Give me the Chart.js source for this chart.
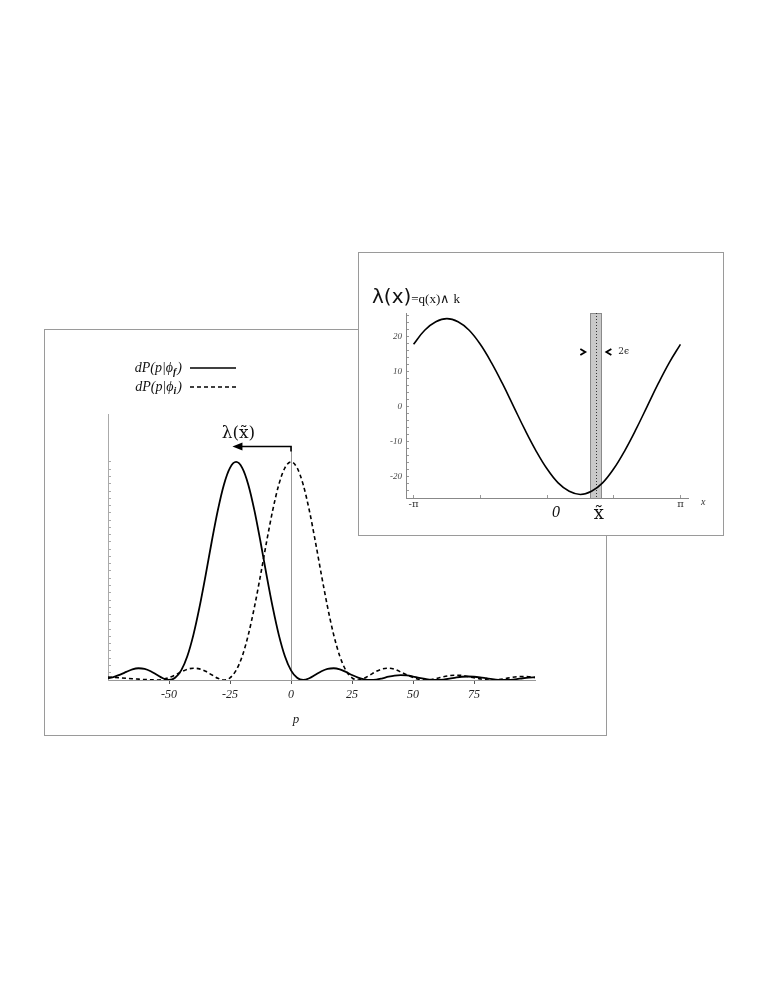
<!DOCTYPE html>
<html>
<head>
<meta charset="utf-8">
<script src="https://cdn.jsdelivr.net/npm/chart.js@4.4.1/dist/chart.umd.min.js"></script>
<style>
  body { margin: 0; background: #fff; width: 761px; height: 985px; position: relative; overflow: hidden; }
  #mainBox { position: absolute; left: 44px; top: 329px; width: 561px; height: 405px; border: 1px solid #9a9a9a; background: #fff; }
  #insetBox { position: absolute; left: 358px; top: 252px; width: 364px; height: 282px; border: 1px solid #9a9a9a; background: #fff; }
  canvas { display: block; }
</style>
</head>
<body>
<div id="mainBox"><canvas id="mainChart" width="561" height="405"></canvas></div>
<div id="insetBox"><canvas id="insetChart" width="364" height="282"></canvas></div>
<script>
// main plot: momentum distributions
const pValues = [-75, -72.5, -70, -67.5, -65, -62.5, -60, -57.5, -55, -52.5, -50, -47.5, -45, -42.5, -40, -37.5,
  -35, -32.5, -30, -27.5, -25, -22.5, -20, -17.5, -15, -12.5, -10, -7.5, -5, -2.5, 0, 2.5, 5, 7.5, 10, 12.5,
  15, 17.5, 20, 22.5, 25, 27.5, 30, 32.5, 35, 37.5, 40, 42.5, 45, 47.5, 50, 52.5, 55, 57.5, 60, 62.5, 65,
  67.5, 70, 72.5, 75, 77.5, 80, 82.5, 85, 87.5, 90, 92.5, 95, 97.5, 100];

// dP(p|phi_f) - solid
const finalValues = [0.008, 0.014, 0.025, 0.037, 0.049, 0.054, 0.051, 0.040, 0.024, 0.008, 0, 0.010, 0.044,
  0.109, 0.207, 0.334, 0.480, 0.634, 0.778, 0.896, 0.973, 1.0, 0.973, 0.896, 0.778, 0.634, 0.480, 0.334,
  0.207, 0.109, 0.044, 0.010, 0, 0.008, 0.024, 0.040, 0.051, 0.054, 0.049, 0.037, 0.023, 0.011, 0.003, 0,
  0.002, 0.008, 0.015, 0.020, 0.022, 0.021, 0.016, 0.010, 0.005, 0.001, 0, 0.002, 0.006, 0.011, 0.015,
  0.016, 0.015, 0.012, 0.008, 0.004, 0.001, 0, 0.001, 0.004, 0.008, 0.011, 0.012];

// dP(p|phi_i) - dashed
const initialValues = [0.014, 0.012, 0.010, 0.008, 0.006, 0.004, 0.002, 0.001, 0, 0.003, 0.011, 0.023, 0.037,
  0.049, 0.054, 0.051, 0.040, 0.024, 0.008, 0, 0.010, 0.044, 0.109, 0.207, 0.334, 0.480, 0.634, 0.778,
  0.896, 0.973, 1.0, 0.973, 0.896, 0.778, 0.634, 0.480, 0.334, 0.207, 0.109, 0.044, 0.010, 0, 0.008, 0.024,
  0.040, 0.051, 0.054, 0.049, 0.037, 0.023, 0.011, 0.003, 0, 0.002, 0.008, 0.015, 0.020, 0.022, 0.021,
  0.016, 0.010, 0.005, 0.001, 0, 0.002, 0.006, 0.011, 0.015, 0.016, 0.015, 0.012];

const pTickLabels = [-50, -25, 0, 25, 50, 75];
const shiftFrom = 0;      // arrow starts at p = 0
const shiftTo = -24;      // arrow head
const shiftLevel = 1.073; // height of the arrow

// inset: lambda(x)
const xValues = [-3.1416, -2.8798, -2.6180, -2.3562, -2.0944, -1.8326, -1.5708, -1.3090, -1.0472, -0.7854,
  -0.5236, -0.2618, 0, 0.2618, 0.5236, 0.7854, 1.0472, 1.3090, 1.5708, 1.8326, 2.0944, 2.3562, 2.6180,
  2.8798, 3.1416];
const lambdaValues = [17.7, 21.7, 24.1, 25, 24.1, 21.7, 17.7, 12.5, 6.5, 0, -6.5, -12.5, -17.7, -21.7, -24.1,
  -25, -24.1, -21.7, -17.7, -12.5, -6.5, 0, 6.5, 12.5, 17.7];
const lambdaTicks = [-20, -10, 0, 10, 20];
const xTickValues = [-Math.PI, -Math.PI / 2, 0, Math.PI / 2, Math.PI];
const xTickNames = ['-\u03c0', '', '', '', '\u03c0'];
const bandCenter = 1.15;
const bandHalf = 0.13;
const markerLevel = 15.5;

const serifItalic = size => ({ family: 'Liberation Serif', style: 'italic', size: size });

//draws legend, the shift arrow and the line at p = 0
const mainDecor = {
  id: 'mainDecor',
  beforeDatasetsDraw(chart) {
    const ctx = chart.ctx, x = chart.scales.x, y = chart.scales.y;
    const x0 = x.getPixelForValue(shiftFrom);
    ctx.save();
    ctx.strokeStyle = '#999';
    ctx.lineWidth = 1;
    ctx.beginPath();
    ctx.moveTo(Math.round(x0) + 0.5, y.getPixelForValue(shiftLevel));
    ctx.lineTo(Math.round(x0) + 0.5, y.getPixelForValue(0));
    ctx.stroke();
    ctx.restore();
  },
  afterDraw(chart) {
    const ctx = chart.ctx, x = chart.scales.x, y = chart.scales.y, a = chart.chartArea;
    const x0 = x.getPixelForValue(shiftFrom), x1 = x.getPixelForValue(shiftTo);
    const ya = Math.round(y.getPixelForValue(shiftLevel)) + 0.5;
    ctx.save();
    ctx.strokeStyle = '#000';
    ctx.fillStyle = '#000';
    ctx.lineWidth = 1.6;
    ctx.beginPath();
    ctx.moveTo(x0, ya + 5);
    ctx.lineTo(x0, ya);
    ctx.lineTo(x1 + 8, ya);
    ctx.stroke();
    ctx.beginPath();
    ctx.moveTo(x1, ya);
    ctx.lineTo(x1 + 10, ya - 4);
    ctx.lineTo(x1 + 10, ya + 4);
    ctx.closePath();
    ctx.fill();
    ctx.font = '17px "DejaVu Serif"';
    ctx.textAlign = 'center';
    ctx.fillStyle = '#111';
    ctx.fillText('\u03bb(x\u0303)', x1 + 6, ya - 9);

    // axis name
    ctx.font = 'italic 13px "Liberation Serif"';
    ctx.fillStyle = '#222';
    ctx.fillText('p', x.getPixelForValue(2), a.bottom + 43);

    // legend
    chart.data.datasets.forEach((ds, i) => {
      const ly = 38 + i * 19;
      const main = 'dP(p|\u03d5';
      ctx.font = 'italic 14px "Liberation Serif"';
      const w1 = ctx.measureText(main).width;
      const w3 = ctx.measureText(')').width;
      ctx.font = 'bold italic 10px "Liberation Serif"';
      const w2 = ctx.measureText(ds.sub).width;
      const right = 137;
      let tx = right - (w1 + w2 + w3 + 1);
      ctx.textAlign = 'left';
      ctx.textBaseline = 'middle';
      ctx.fillStyle = '#111';
      ctx.font = 'italic 14px "Liberation Serif"';
      ctx.fillText(main, tx, ly);
      ctx.font = 'bold italic 10px "Liberation Serif"';
      ctx.fillText(ds.sub, tx + w1, ly + 4);
      ctx.font = 'italic 14px "Liberation Serif"';
      ctx.fillText(')', tx + w1 + w2 + 1, ly);
      ctx.strokeStyle = '#000';
      ctx.lineWidth = 1.6;
      ctx.setLineDash(ds.borderDash || []);
      ctx.beginPath();
      ctx.moveTo(145, ly);
      ctx.lineTo(191, ly);
      ctx.stroke();
      ctx.setLineDash([]);
    });
    ctx.restore();
  }
};

new Chart(document.getElementById('mainChart'), {
  type: 'line',
  data: {
    datasets: [{
      label: 'dP(p|phi_f)',
      sub: 'f',
      data: pValues.map((p, i) => ({ x: p, y: finalValues[i] })),
      borderColor: '#000',
      borderWidth: 1.8,
      pointRadius: 0,
      cubicInterpolationMode: 'monotone'
    }, {
      label: 'dP(p|phi_i)',
      sub: 'i',
      data: pValues.map((p, i) => ({ x: p, y: initialValues[i] })),
      borderColor: '#000',
      borderWidth: 1.6,
      borderDash: [4, 3],
      pointRadius: 0,
      cubicInterpolationMode: 'monotone'
    }]
  },
  options: {
    responsive: false,
    animation: false,
    layout: { padding: { top: 84, right: 71, left: 0, bottom: 0 } },
    plugins: { legend: { display: false }, tooltip: { enabled: false } },
    scales: {
      x: {
        type: 'linear', min: -75, max: 100,
        afterBuildTicks: s => { s.ticks = pTickLabels.map(v => ({ value: v })); },
        afterFit: s => { s.height = 55; },
        ticks: { font: serifItalic(12), color: '#222', padding: 4, maxRotation: 0, autoSkip: false, callback: v => String(v) },
        grid: { drawOnChartArea: false, tickLength: 4, color: '#555' },
        border: { color: '#999' }
      },
      y: {
        min: 0, max: 1.22,
        afterBuildTicks: s => {
          const t = [];
          for (let i = 0; i <= 30; i++) t.push({ value: i / 30 });
          s.ticks = t;
        },
        afterFit: s => { s.width = 63; },
        ticks: { display: false },
        grid: { drawOnChartArea: false, tickLength: -3, color: '#aaa' },
        border: { color: '#aaa' }
      }
    }
  },
  plugins: [mainDecor]
});

//inset decorations: band, arrows and labels
const insetDecor = {
  id: 'insetDecor',
  beforeDatasetsDraw(chart) {
    const ctx = chart.ctx, x = chart.scales.x, a = chart.chartArea;
    const xl = x.getPixelForValue(bandCenter - bandHalf), xr = x.getPixelForValue(bandCenter + bandHalf);
    const xc = x.getPixelForValue(bandCenter);
    ctx.save();
    ctx.fillStyle = '#c9c9c9';
    ctx.fillRect(xl, a.top, xr - xl, a.bottom - a.top);
    ctx.strokeStyle = '#8a8a8a';
    ctx.lineWidth = 1;
    ctx.strokeRect(Math.round(xl) + 0.5, a.top + 0.5, Math.round(xr - xl), a.bottom - a.top);
    ctx.strokeStyle = '#333';
    ctx.setLineDash([1, 2]);
    ctx.beginPath();
    ctx.moveTo(Math.round(xc) + 0.5, a.top);
    ctx.lineTo(Math.round(xc) + 0.5, a.bottom);
    ctx.stroke();
    ctx.restore();
  },
  afterDraw(chart) {
    const ctx = chart.ctx, x = chart.scales.x, y = chart.scales.y, a = chart.chartArea;
    const xl = x.getPixelForValue(bandCenter - bandHalf), xr = x.getPixelForValue(bandCenter + bandHalf);
    const ym = y.getPixelForValue(markerLevel);
    ctx.save();
    ctx.strokeStyle = '#000';
    ctx.lineWidth = 1.8;
    ctx.beginPath();
    ctx.moveTo(xl - 10, ym - 3);
    ctx.lineTo(xl - 5, ym);
    ctx.lineTo(xl - 10, ym + 3);
    ctx.moveTo(xr + 10, ym - 3);
    ctx.lineTo(xr + 5, ym);
    ctx.lineTo(xr + 10, ym + 3);
    ctx.stroke();
    ctx.fillStyle = '#222';
    ctx.textBaseline = 'middle';
    ctx.textAlign = 'left';
    ctx.font = '9px "DejaVu Serif"';
    ctx.fillText('2\u03f5', xr + 17, ym);

    // title
    ctx.textBaseline = 'alphabetic';
    ctx.font = '20px "DejaVu Sans"';
    ctx.fillStyle = '#111';
    ctx.fillText('\u03bb(x)', 13, 50);
    const w = ctx.measureText('\u03bb(x)').width;
    ctx.font = '13px "Liberation Serif"';
    ctx.fillText('=q(x)\u2227 k', 13 + w, 50);

    // axis marks
    ctx.textAlign = 'center';
    ctx.font = 'italic 16px "Liberation Serif"';
    ctx.fillText('0', x.getPixelForValue(0) + 9, a.bottom + 19);
    ctx.font = '18px "DejaVu Serif"';
    ctx.fillText('x\u0303', x.getPixelForValue(bandCenter) + 3, a.bottom + 21);
    ctx.font = 'italic 10px "Liberation Serif"';
    ctx.fillStyle = '#333';
    ctx.textAlign = 'left';
    ctx.fillText('x', a.right + 13, a.bottom + 7);
    ctx.restore();
  }
};

new Chart(document.getElementById('insetChart'), {
  type: 'line',
  data: {
    datasets: [{
      label: 'lambda(x)',
      data: xValues.map((v, i) => ({ x: v, y: lambdaValues[i] })),
      borderColor: '#000',
      borderWidth: 1.6,
      pointRadius: 0,
      tension: 0.4
    }]
  },
  options: {
    responsive: false,
    animation: false,
    layout: { padding: { top: 60, right: 35, left: 0, bottom: 0 } },
    plugins: { legend: { display: false }, tooltip: { enabled: false } },
    scales: {
      x: {
        type: 'linear', min: -3.32, max: 3.32,
        afterBuildTicks: s => { s.ticks = xTickValues.map(v => ({ value: v })); },
        afterFit: s => { s.height = 37; },
        ticks: {
          font: { family: 'DejaVu Serif', size: 10 }, color: '#333', padding: 3, maxRotation: 0, autoSkip: false,
          callback: (v, i) => xTickNames[i]
        },
        grid: { drawOnChartArea: false, tickLength: -3, color: '#999' },
        border: { color: '#888' }
      },
      y: {
        min: -26, max: 26.6,
        afterBuildTicks: s => {
          const t = [];
          for (let v = -26; v <= 26; v += 2) t.push({ value: v });
          s.ticks = t;
        },
        afterFit: s => { s.width = 47; },
        ticks: {
          font: serifItalic(9), color: '#444', padding: 7, autoSkip: false,
          callback: v => lambdaTicks.includes(v) ? String(v) : ''
        },
        grid: { drawOnChartArea: false, tickLength: -3, color: '#999' },
        border: { color: '#888' }
      }
    }
  },
  plugins: [insetDecor]
});
</script>
</body>
</html>
